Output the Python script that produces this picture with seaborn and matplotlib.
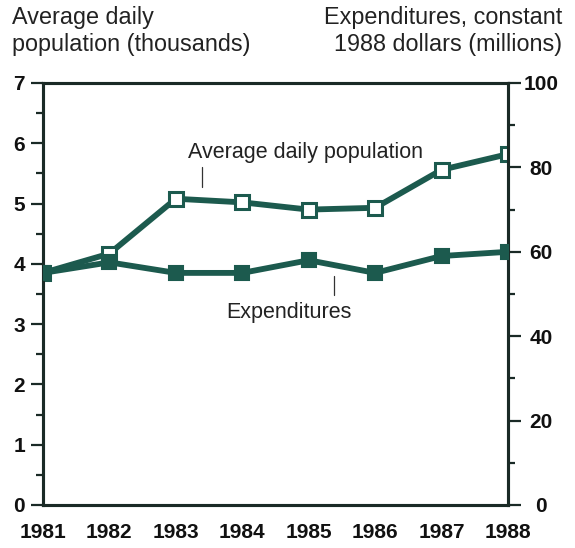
import matplotlib
matplotlib.use("Agg")
import matplotlib.pyplot as plt
import seaborn as sns
import pandas as pd
from matplotlib.ticker import MultipleLocator

years = [1981, 1982, 1983, 1984, 1985, 1986, 1987, 1988]
population = [3.85, 4.17, 5.08, 5.02, 4.9, 4.93, 5.56, 5.82]
expenditures = [55, 57.5, 55, 55, 58, 55, 59, 60]
left_ticks = [0, 1, 2, 3, 4, 5, 6, 7]
right_ticks = [0, 20, 40, 60, 80, 100]

sns.set_theme(style="white")
plt.rcParams['font.family'] = ['Liberation Sans', 'DejaVu Sans']

color = "#1c5a4e"
dark = "#1a2a26"

df_pop = pd.DataFrame({"year": years, "value": population})
df_exp = pd.DataFrame({"year": years, "value": expenditures})

fig = plt.figure(figsize=(5.75, 5.48), dpi=100)
ax = fig.add_axes([43/575, 1-505/548, (508-43)/575, (505-83)/548])
ax2 = ax.twinx()

sns.lineplot(data=df_pop, x="year", y="value", ax=ax, color=color, lw=4.2,
             marker="s", markersize=10, markerfacecolor="white",
             markeredgecolor=color, markeredgewidth=2.2, zorder=3)
sns.lineplot(data=df_exp, x="year", y="value", ax=ax2, color=color, lw=4.2,
             marker="s", markersize=10, markerfacecolor=color,
             markeredgecolor=color, markeredgewidth=1.5, zorder=3)

ax.set_xlim(years[0], years[-1])
ax.set_ylim(0, 7)
ax2.set_ylim(0, 100)
ax.set_xticks(years)
ax.set_xticklabels([str(y) for y in years], fontsize=15, fontweight="bold")
ax.set_yticks(left_ticks)
ax.set_yticklabels([str(t) for t in left_ticks], fontsize=15, fontweight="bold")
ax.yaxis.set_minor_locator(MultipleLocator(0.5))
ax2.set_yticks(right_ticks)
ax2.set_yticklabels([str(t) for t in right_ticks], fontsize=15, fontweight="bold", ha="center")
ax2.yaxis.set_minor_locator(MultipleLocator(10))

for a in (ax, ax2):
    a.set_xlabel("")
    a.set_ylabel("")
    for s in a.spines.values():
        s.set_color(dark)
        s.set_linewidth(2.2)

ax.tick_params(axis="x", length=0, pad=13, colors="#111111")
ax.tick_params(axis="y", which="major", length=9, width=1.6, color=dark, pad=4, labelcolor="#111111", left=True)
ax.tick_params(axis="y", which="minor", length=5, width=1.6, color=dark, left=True)
ax2.tick_params(axis="y", which="major", length=9, width=1.6, color=dark, pad=15, labelcolor="#111111", right=True)
ax2.tick_params(axis="y", which="minor", length=5, width=1.6, color=dark, right=True)

fig.text(12/575, 1-6/548, "Average daily\npopulation (thousands)", ha="left", va="top",
         fontsize=16.8, color="#222222", linespacing=1.25)
fig.text(562/575, 1-6/548, "Expenditures, constant\n1988 dollars (millions)", ha="right", va="top",
         fontsize=16.8, color="#222222", linespacing=1.25)

ax.text(1984.95, 5.85, "Average daily population", ha="center", va="center", fontsize=15.5, color="#222222")
ax.plot([1983.4, 1983.4], [5.27, 5.6], color="#333333", lw=0.9)
ax.text(1984.7, 3.2, "Expenditures", ha="center", va="center", fontsize=15.5, color="#222222")
ax.plot([1985.38, 1985.38], [3.48, 3.8], color="#333333", lw=0.9)

fig.savefig("out.png", dpi=100)
